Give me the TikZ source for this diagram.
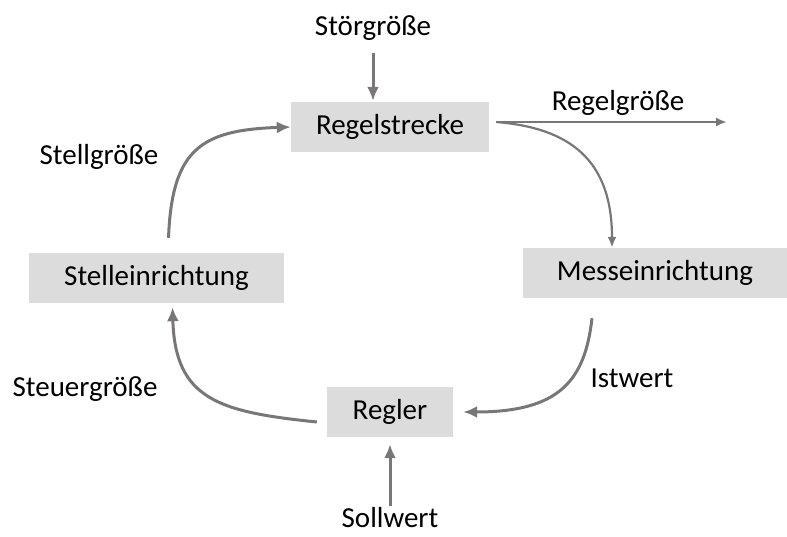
\documentclass[tikz,border=0pt]{standalone}
\usepackage{fontspec}
\setmainfont{Carlito}
\usepackage{tikz}
\usetikzlibrary{arrows.meta}
\usetikzlibrary{positioning}
\definecolor{boxgrau}{RGB}{220,220,220}
\definecolor{pfeilgrau}{RGB}{121,118,119}
\tikzset{block/.style = {fill=boxgrau, inner sep=0, minimum height=50pt,
                         font=\fontsize{29}{31}\selectfont}}
\tikzset{label/.style = {inner sep=1pt, font=\fontsize{29}{31}\selectfont}}
\tikzset{pfeil/.style = {draw=pfeilgrau, line width=3pt,
                         -{Latex[length=14pt, width=12pt]}}}
\tikzset{duenn/.style = {draw=pfeilgrau, line width=2.2pt,
                         -{Latex[length=11pt, width=9pt]}}}

\begin{document}
\begin{tikzpicture}[x=1pt, y=-1pt]
    \useasboundingbox (0, 0) rectangle (787, 536);

    \node [block, minimum width=198pt] (strecke) at (390, 127) {Regelstrecke};
    \node [block, minimum width=264pt] (mess) at (655, 273) {Messeinrichtung};
    \node [block, minimum width=126pt] (regler) at (390, 412) {Regler};
    \node [block, minimum width=255pt] (stell) at (156.5, 278) {Stelleinrichtung};

    \node [label] (stoer) at (373, 28) {Störgröße};
    \node [label] (regelgr) at (618, 103) {Regelgröße};
    \node [label] (ist) at (632, 378) {Istwert};
    \node [label] (soll) at (390, 518) {Sollwert};
    \node [label] (stellgr) at (99, 157) {Stellgröße};
    \node [label] (steuergr) at (85, 389) {Steuergröße};
    \coordinate (ausgang) at (727, 122);

    \draw [pfeil, shorten <=11pt, shorten >=1pt] (stoer.south) -- (stoer.south |- strecke.north);
    \draw [duenn] ([xshift=7pt, yshift=5pt]strecke.east) -- (ausgang);
    \draw [duenn] ([xshift=7pt, yshift=5pt]strecke.east)
        .. controls (570, 128) and (612, 160) .. ([xshift=-43pt]mess.north);
    \draw [pfeil] ([xshift=-63pt, yshift=-20pt]mess.south)
        .. controls (585, 380) and (560, 412) .. ([xshift=10pt]regler.east);
    \draw [pfeil] ([xshift=-10pt, yshift=-10pt]regler.west)
        .. controls (220, 412) and (175, 400) .. ([xshift=16pt, yshift=-4pt]stell.south);
    \draw [pfeil] ([xshift=12pt, yshift=15pt]stell.north)
        .. controls (172, 150) and (200, 130) .. (strecke.west);
    \draw [pfeil, shorten <=1pt] (soll.north) -- ([yshift=-7pt]regler.south);
  \end{tikzpicture}
\end{document}
